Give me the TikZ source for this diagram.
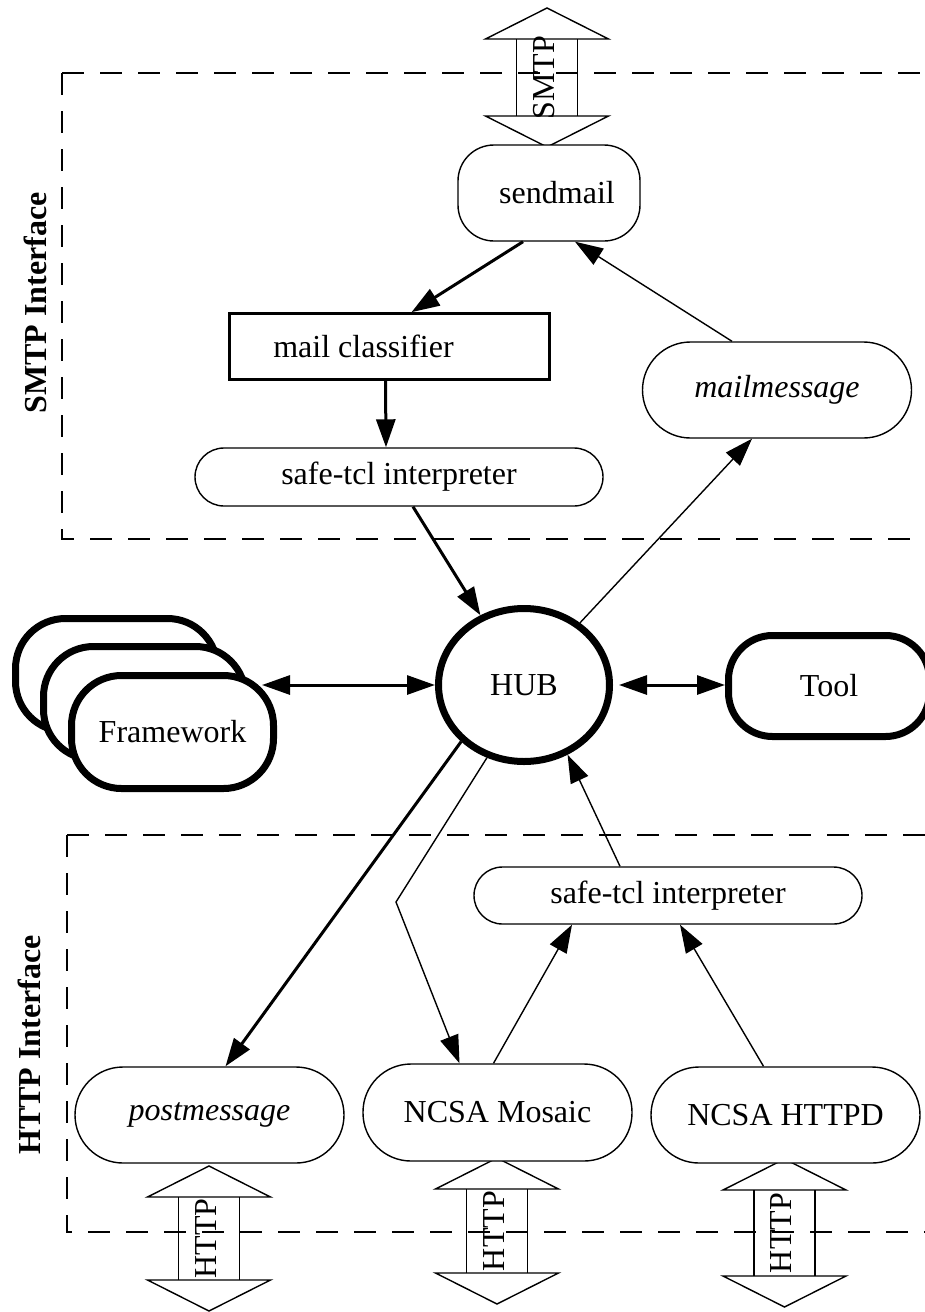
\documentclass[tikz,border=0pt]{standalone}
\usepackage{fontspec}
\setmainfont{Liberation Serif}
\usetikzlibrary{arrows.meta,calc,shapes.geometric}
\newcommand\protoArrow[5]{%
  \draw[line width=0.7pt] (#2-61.5,#3+31) -- (#2,#3) -- (#2+61.5,#3+31) -- cycle;
  \draw[line width=0.7pt] (#2-61.5,#4-31) -- (#2,#4) -- (#2+61.5,#4-31) -- cycle;
  \draw[line width=0.7pt] (#2-30.5,#3+31) -- (#2-30.5,#4-31) (#2+30.5,#3+31) -- (#2+30.5,#4-31);
  \node[rotate=90, txt, inner sep=0pt] (#1) at (#2-3,{(#3+#4)/2}) {#5};
}
\begin{document}
\begin{tikzpicture}[x=0.5pt,y=-0.5pt,
  txt/.style={font=\fontsize{16}{19}\selectfont},
  box/.style={draw, line width=0.7pt, rounded corners=#1, txt, inner sep=0pt, fill=white},
  heavy/.style={draw, line width=3.5pt, rounded corners=#1, txt, inner sep=0pt, fill=white},
  tipT/.tip={Triangle[length=14pt,width=9.5pt]},
  conn/.style={line width=0.7pt, -tipT},
  connB/.style={line width=1.5pt, -tipT},
  conn2/.style={line width=1.5pt, tipT-tipT},
  dashbox/.style={line width=0.65pt, dash pattern=on 11pt off 8pt},
  iface/.style={rotate=90, font=\fontsize{16}{19}\selectfont\bfseries, inner sep=0pt}]
\useasboundingbox (0,0) rectangle (925,1312);
\clip (0,0) rectangle (925,1312);

% interface regions
\draw[dashbox] (62,73) -- (960,73);
\draw[dashbox] (62,73) -- (62,539) -- (960,539);
\draw[dashbox] (67,835) -- (960,835);
\draw[dashbox] (67,835) -- (67,1232) -- (960,1232);
\node[iface] (smtpiface) at (35,303) {SMTP Interface};
\node[iface] (httpiface) at (29,1045) {HTTP Interface};

% protocol arrows
\protoArrow{smtp}{547}{8}{147}{SMTP}
\protoArrow{http1}{209}{1166}{1311}{HTTP}
\protoArrow{http2}{497}{1158}{1304}{HTTP}
\protoArrow{http3}{784.5}{1159}{1307}{HTTP}

% nodes
\node[box=18pt, minimum width=91pt, minimum height=48pt] (sendmail) at (549,193) {\hspace*{8pt}sendmail};
\node[draw, line width=1.3pt, txt, inner sep=0pt, minimum width=160pt, minimum height=33pt] (classifier) at (389.5,346.5) {mail classifier\hspace*{26pt}};
\node[box=24pt, minimum width=134.5pt, minimum height=48pt] (mailmsg) at (777,390) {\itshape mailmessage};
\node[box=14.5pt, minimum width=204pt, minimum height=29pt] (safe1) at (399,477) {safe-tcl interpreter};
\node[draw, ellipse, line width=3.5pt, minimum width=85.5pt, minimum height=76.5pt, inner sep=0pt, txt, fill=white] (hub) at (524,685) {HUB};
\node[heavy=22pt, minimum width=100.5pt, minimum height=50.5pt] (tool) at (829,686) {Tool};
\node[heavy=25pt, minimum width=101pt, minimum height=56.5pt] (fwC) at (116.5,675) {};
\node[heavy=25pt, minimum width=101pt, minimum height=56.5pt] (fwB) at (144.5,703) {};
\node[heavy=25pt, minimum width=101pt, minimum height=56.5pt] (fwA) at (172.5,732) {Framework};
\node[box=14.25pt, minimum width=194pt, minimum height=28.5pt] (safe2) at (668,895.5) {safe-tcl interpreter};
\node[box=24pt, minimum width=134.5pt, minimum height=48pt] (postmsg) at (209.5,1115) {\itshape postmessage};
\node[box=24pt, minimum width=134.5pt, minimum height=48.5pt] (mosaic) at (497.5,1112.5) {NCSA Mosaic};
\node[box=24pt, minimum width=134.5pt, minimum height=48pt] (httpd) at (785.5,1115) {NCSA HTTPD};

% connectors
\draw[connB] ([xshift=-13pt]sendmail.south) -- ([xshift=11pt]classifier.north);
\draw[conn] ([xshift=-22.5pt]mailmsg.north) -- ([xshift=13pt]sendmail.south);
\draw[connB] ([xshift=-2pt]classifier.south) -- ([xshift=-6.5pt]safe1.north);
\draw[connB] ([xshift=7pt]safe1.south) -- (hub.122);
\draw[conn] (hub.48) -- ([xshift=-12.5pt]mailmsg.south);
\draw[connB] (hub.222) -- ([xshift=8pt]postmsg.north);
\coordinate (bend) at (396,902);
\draw[conn] (hub.243) -- (bend) -- ([xshift=-19pt]mosaic.north);
\draw[conn] ([xshift=-24pt]safe2.north) -- (hub.302);
\draw[conn] ([xshift=-2pt]mosaic.north) -- ([xshift=-48pt]safe2.south);
\draw[conn] ([xshift=-11pt]httpd.north) -- ([xshift=6pt]safe2.south);
\coordinate (fwR) at ($(fwA.east|-hub.west)+(-15,0)$);
\draw[conn2] (fwR) -- (hub.west);
\draw[conn2] ([xshift=3pt]hub.east) -- (tool.west|-hub.east);
\end{tikzpicture}
\end{document}
